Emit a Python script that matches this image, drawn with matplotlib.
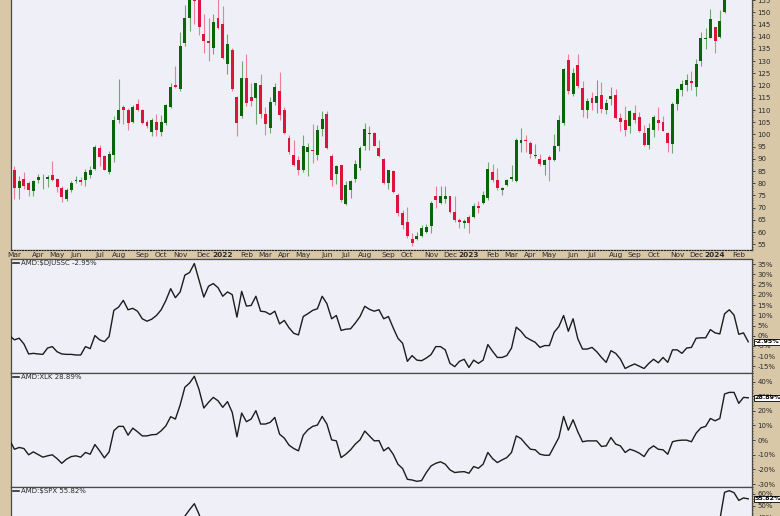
import pandas as pd
import matplotlib
matplotlib.use("Agg")
import matplotlib.pyplot as plt
from matplotlib.ticker import MultipleLocator, FuncFormatter

# weekly AMD candles, first bar = week of 2021-02-22
weeks = pd.date_range("2021-02-22", periods=157, freq="7D")

opens = [88.0, 85.6, 78.0, 81.7, 80.1, 76.7, 81.5, 82.0, 81.9, 83.2, 81.7, 78.0, 73.6, 77.1, 80.8, 81.3,
         81.5, 83.2, 86.0, 94.6, 91.3, 84.6, 91.7, 105.8, 111.3, 110.2, 105.2, 112.6, 110.0, 105.0, 101.1, 105.0,
         101.1, 104.5, 111.3, 120.2, 118.7, 137.4, 147.7, 157.5, 158.0, 141.1, 138.3, 135.6, 147.5, 145.2,
         128.7, 134.6, 115.4, 107.5, 123.3, 115.4, 115.0, 120.1, 108.2, 102.7, 113.3, 117.8, 110.0, 98.6,
         91.7, 89.7, 85.3, 92.7, 93.8, 91.5, 102.3, 108.2, 91.1, 83.9, 87.3, 71.6, 77.3, 81.9, 86.3, 95.2,
         100.0, 100.4, 94.5, 90.1, 80.1, 84.9, 75.3, 67.8, 64.3, 57.1, 57.1, 58.4, 60.2, 62.5, 74.9, 71.9,
         73.5, 74.6, 68.4, 65.0, 63.7, 66.1, 66.1, 70.8, 72.1, 73.9, 84.5, 81.5, 77.1, 79.1, 81.9, 80.8,
         96.3, 97.9, 96.5, 91.1, 89.9, 87.6, 90.8, 89.4, 95.2, 104.5, 130.4, 116.4, 128.3, 119.2, 110.2,
         115.0, 112.7, 116.0, 110.2, 114.6, 116.0, 106.8, 105.9, 103.4, 108.9, 107.2, 100.6, 95.6, 102.0,
         105.9, 105.2, 100.6, 95.9, 112.3, 118.2, 120.1, 121.9, 119.6, 130.1, 139.2, 139.7, 144.2, 140.1,
         150.3, 172.0, 176.0, 171.0, 175.0, 170.0]
highs = [89.5, 87.0, 82.8, 84.6, 81.0, 81.5, 83.7, 84.0, 83.5, 89.0, 82.1, 78.7, 78.0, 80.8, 82.8, 82.4,
         86.0, 87.0, 95.6, 95.6, 91.7, 93.1, 107.5, 122.6, 111.9, 110.9, 111.9, 114.6, 110.5, 106.1, 106.8, 108.5,
         108.0, 112.6, 121.2, 128.1, 141.8, 153.0, 160.0, 161.0, 164.5, 149.3, 147.5, 149.3, 157.0, 152.7,
         141.1, 135.5, 115.7, 130.1, 132.9, 121.2, 121.2, 124.6, 111.3, 115.4, 121.2, 125.6, 111.3, 99.6,
         97.9, 91.3, 99.6, 96.5, 104.1, 103.7, 109.6, 109.6, 92.1, 87.6, 87.6, 80.8, 81.5, 89.7, 95.2, 104.5,
         103.4, 100.9, 97.6, 90.4, 85.6, 85.3, 76.0, 68.9, 70.2, 59.8, 60.2, 63.0, 63.4, 72.6, 79.0, 78.7,
         79.0, 74.9, 74.9, 65.7, 65.3, 67.1, 71.9, 72.6, 76.7, 88.6, 88.0, 86.3, 78.4, 81.9, 87.6, 98.6,
         102.7, 99.6, 97.2, 95.9, 92.1, 89.9, 91.7, 100.0, 107.8, 127.4, 132.8, 127.4, 132.9, 121.9, 115.0,
         117.4, 122.3, 121.5, 114.6, 119.6, 118.7, 108.6, 111.6, 110.0, 111.9, 109.1, 103.7, 104.8, 107.8,
         111.3, 107.5, 100.9, 113.3, 119.2, 122.3, 124.6, 126.0, 130.8, 142.0, 143.4, 151.4, 144.2, 151.0,
         175.0, 180.5, 180.0, 178.0, 180.0, 177.0]
lows = [82.5, 73.6, 73.5, 77.6, 74.6, 74.6, 80.1, 77.6, 78.5, 80.8, 76.3, 72.3, 72.6, 76.3, 80.1, 79.1,
        79.0, 82.0, 85.6, 87.0, 85.3, 83.9, 88.7, 104.8, 104.1, 101.8, 104.8, 109.6, 104.1, 102.7, 99.3, 99.3,
        99.3, 103.7, 110.9, 119.2, 117.8, 136.3, 142.5, 145.2, 140.7, 133.5, 130.1, 132.9, 143.0, 130.8,
        124.6, 117.8, 99.3, 106.8, 111.6, 111.6, 104.1, 106.8, 99.6, 100.6, 111.9, 105.9, 100.0, 92.1,
        87.0, 83.5, 84.5, 82.8, 88.3, 89.4, 99.3, 94.1, 79.0, 79.8, 72.5, 71.2, 73.9, 80.4, 85.6, 93.8,
        93.5, 95.2, 90.8, 79.8, 77.6, 76.0, 66.7, 61.2, 57.5, 54.3, 56.8, 57.9, 59.5, 59.5, 69.8, 71.6,
        72.0, 68.0, 64.3, 61.6, 61.6, 59.8, 65.7, 67.8, 71.6, 73.2, 80.4, 77.1, 75.3, 78.7, 80.8, 80.4,
        92.7, 92.7, 90.4, 90.4, 87.0, 83.5, 80.8, 89.0, 93.1, 103.7, 116.4, 115.7, 119.2, 107.2, 106.8,
        110.2, 108.9, 108.9, 108.2, 111.9, 106.4, 101.3, 99.3, 100.6, 104.8, 100.9, 95.2, 94.1, 99.0,
        101.7, 101.3, 92.7, 92.4, 110.2, 115.7, 117.8, 118.2, 115.7, 128.1, 134.9, 139.3, 133.5, 139.7,
        149.6, 167.0, 163.5, 168.0, 168.5, 163.0]
closes = [84.5, 78.0, 81.0, 78.7, 77.1, 80.8, 82.6, 82.3, 82.6, 81.2, 78.4, 74.3, 77.1, 80.1, 81.5, 80.7,
          84.6, 85.6, 94.9, 90.7, 85.6, 92.1, 106.1, 110.0, 110.2, 104.5, 111.3, 110.0, 104.8, 103.4, 105.9, 102.0,
          105.0, 111.9, 119.6, 119.6, 136.3, 147.7, 157.0, 154.5, 143.8, 138.3, 137.4, 146.1, 143.5, 131.5,
          137.0, 118.5, 104.8, 123.3, 113.0, 113.7, 120.9, 108.2, 104.1, 113.3, 119.6, 107.8, 100.6, 92.7,
          87.6, 85.3, 95.2, 94.9, 93.1, 102.0, 106.4, 94.5, 81.5, 86.9, 73.2, 79.1, 81.0, 88.0, 94.5, 102.3,
          100.6, 95.4, 91.1, 80.1, 85.3, 76.3, 67.8, 63.0, 58.2, 55.7, 58.4, 61.6, 62.0, 72.1, 73.2, 74.9,
          74.9, 68.4, 65.0, 64.3, 64.7, 63.9, 70.8, 69.8, 75.3, 85.8, 81.2, 78.0, 78.0, 81.5, 82.6, 97.9,
          97.9, 97.5, 92.1, 91.7, 88.0, 89.4, 89.4, 95.2, 105.9, 127.0, 117.8, 125.0, 119.8, 110.0, 113.7,
          113.0, 115.7, 110.5, 112.7, 115.7, 106.8, 105.0, 102.0, 109.6, 105.9, 101.3, 95.6, 102.7, 107.2,
          104.8, 101.6, 96.3, 112.3, 118.5, 120.5, 122.3, 121.2, 128.7, 139.3, 139.6, 147.2, 138.3, 146.6,
          174.2, 177.2, 170.5, 174.5, 172.0, 176.5]

# price relative panels, % change since first bar
rel_djussc = [0.0, -2.0, -1.2, -4.0, -8.9, -8.6, -8.9, -9.1, -6.0, -5.3, -7.8, -8.9, -9.1, -9.1, -9.4, -9.4,
              -5.3, -6.3, 0.1, -2.0, -2.9, -0.4, 12.4, 14.0, 17.3, 12.7, 13.4, 12.0, 8.3, 7.1, 8.1, 9.9,
              12.7, 17.3, 23.0, 18.6, 21.4, 29.6, 30.9, 35.3, 27.1, 18.9, 24.2, 25.5, 23.5, 19.3, 21.4, 20.1,
              9.1, 21.7, 14.5, 14.8, 19.3, 12.0, 11.7, 10.4, 12.0, 5.8, 7.5, 3.9, 1.2, 0.4, 9.4, 10.8,
              12.4, 13.2, 19.3, 15.7, 8.3, 9.9, 2.6, 3.2, 3.4, 6.2, 9.4, 14.4, 12.9, 12.0, 12.7, 8.3,
              9.4, 3.9, -1.2, -3.7, -12.5, -9.7, -11.9, -12.2, -10.9, -9.2, -5.3, -5.3, -6.9, -13.5, -15.1, -12.5,
              -11.5, -15.5, -11.9, -13.5, -11.9, -4.3, -7.6, -10.6, -10.6, -9.7, -6.0, 4.2, 2.2, -0.7, -2.0, -3.2,
              -5.7, -4.8, -4.8, 1.7, 4.5, 9.9, 2.2, 8.3, -1.5, -6.5, -6.5, -5.7, -7.8, -10.6, -13.0, -7.3,
              -8.6, -11.4, -16.0, -14.8, -13.8, -14.9, -16.0, -13.5, -11.5, -13.2, -10.6, -13.0, -6.9, -6.9, -8.6, -6.0,
              -5.7, -1.2, -1.0, -1.0, 3.0, 1.4, 0.9, 10.7, 12.7, 10.1, 0.7, 1.4, -2.95]
rel_xlk = [0.0, -6.2, -5.0, -5.7, -10.0, -8.0, -9.8, -11.6, -10.7, -10.0, -12.6, -15.8, -13.0, -11.2, -10.7, -11.6,
           -8.4, -9.6, -3.0, -7.3, -12.1, -8.0, 6.4, 9.4, 9.4, 3.4, 8.2, 5.7, 2.9, 2.9, 3.7, 3.9,
           6.4, 9.8, 16.0, 14.4, 24.0, 36.1, 39.0, 43.6, 34.5, 21.9, 25.8, 29.2, 26.9, 22.4, 26.3, 19.0,
           2.3, 18.5, 12.6, 14.4, 20.1, 11.0, 11.0, 12.1, 15.5, 4.1, 1.4, -3.4, -5.7, -7.3, 3.4, 7.1,
           9.4, 10.3, 16.2, 11.0, 0.2, -0.5, -11.9, -9.6, -6.6, -2.7, 0.2, 6.2, 2.9, -0.5, -0.3, -7.3,
           -5.0, -9.6, -16.4, -19.4, -26.7, -27.2, -28.1, -27.6, -22.1, -17.6, -15.8, -14.8, -16.4, -20.3, -22.1, -21.7,
           -21.5, -22.6, -18.0, -19.2, -16.4, -8.4, -12.6, -15.3, -13.5, -11.9, -8.4, 2.9, 1.1, -2.7, -6.2, -6.6,
           -9.6, -10.3, -10.3, -4.3, 1.8, 16.2, 6.8, 13.9, 5.7, -1.1, -0.5, -0.5, -0.5, -4.3, -3.9, 1.8,
           -2.7, -3.9, -8.4, -6.2, -7.3, -8.9, -11.2, -6.2, -3.9, -6.2, -6.6, -9.6, -1.1, -0.3, 0.0, 0.0,
           -1.1, 4.8, 8.4, 9.4, 14.8, 13.2, 14.8, 31.5, 32.6, 32.6, 25.1, 29.2, 28.89]
rel_spx = [0.0, -4, -3, -3, -7, -5, -7, -9, -8, -7, -10, -13, -10, -8, -7, -8,
           -5, -6, 1, -3, -8, -4, 11, 14, 14, 8, 13, 11, 8, 8, 9, 9,
           12, 16, 22, 21, 31, 41, 46.6, 51.7, 42.6, 30, 33, 36, 34, 28, 31, 23,
           7, 24, 17, 19, 25, 15, 15, 16, 20, 8, 5, 0, -3, -4, 7, 11,
           13, 14, 20, 14, 3, 2, -10, -7, -4, 0, 3, 10, 6, 3, 3, -4,
           -2, -7, -14, -17, -24, -25, -25, -24, -19, -14, -12, -11, -13, -17, -19, -18,
           -18, -19, -14, -15, -12, -3, -7, -10, -8, -6, -2, 10, 8, 4, 1, 0,
           -3, -3, -3, 4, 10, 26, 16, 24, 15, 8, 9, 9, 9, 5, 6, 12,
           7, 6, 1, 3, 2, 1, -2, 4, 7, 4, 4, 1, 10, 12, 13, 14,
           13, 19, 26, 27, 38, 33, 38, 61.4, 62.8, 61.1, 54.5, 56.6, 55.82]

panels = [("AMD:$DJUSSC", rel_djussc, (-18.2, 37.5), 5),
          ("AMD:XLK", rel_xlk, (-31.7, 46.1), 10),
          ("AMD:$SPX", rel_spx, (-31.2, 66.2), 10)]

TAN = "#d8c8a8"
BG = "#eff0f7"
UP, DOWN = "#0a640a", "#dc143c"
UP_WICK, DOWN_WICK = "#6fa86f", "#ec7f97"
INK = "#2a2a2a"
W, H = 780, 516

fig = plt.figure(figsize=(7.8, 5.16), dpi=100, facecolor=TAN)


def px_axes(top, bottom, left=10.5, right=752.5):
    return fig.add_axes([left / W, 1 - bottom / H, (right - left) / W, (bottom - top) / H])


def style(ax):
    ax.set_facecolor(BG)
    ax.set_xlim(0.17, 156.9)
    ax.set_xticks([])
    ax.yaxis.tick_right()
    ax.tick_params(axis="y", which="major", labelsize=5, colors=INK, length=2, width=0.6, pad=1.5)
    ax.tick_params(axis="y", which="minor", length=1, width=0.5, colors=INK)
    for s in ax.spines.values():
        s.set_color("#4a4a4a")
        s.set_linewidth(0.9)


x = list(range(len(weeks)))

# price panel
ax = px_axes(-1, 250)
style(ax)
for i in x:
    o, h, l, c = opens[i], highs[i], lows[i], closes[i]
    up = c >= o
    ax.vlines(i, l, h, color=UP_WICK if up else DOWN_WICK, lw=0.8, zorder=2)
    ax.bar(i, max(abs(c - o), 0.35), bottom=min(o, c), width=0.62,
           color=UP if up else DOWN, zorder=3, linewidth=0)
ax.set_ylim(52.67, 155.47)
ax.yaxis.set_major_locator(MultipleLocator(5))
ax.yaxis.set_minor_locator(MultipleLocator(1))
ax.spines["top"].set_visible(False)

# date strip: label each month at the first bar whose first trading day falls in it
monday_holidays = pd.to_datetime(["2021-05-31"])
first_day = weeks.where(~weeks.isin(monday_holidays), weeks + pd.Timedelta(days=1))
ax_d = px_axes(250, 259)
ax_d.set_facecolor(TAN)
ax_d.set_xlim(0.17, 156.9)
ax_d.set_ylim(0, 1)
ax_d.set_xticks([])
ax_d.set_yticks([])
for s in ["left", "right"]:
    ax_d.spines[s].set_visible(False)
for s in ["top", "bottom"]:
    ax_d.spines[s].set_linestyle((0, (1, 1.5)))
    ax_d.spines[s].set_color("#222222")
    ax_d.spines[s].set_linewidth(0.8)
for i in range(1, len(weeks)):
    if first_day[i].month != first_day[i - 1].month:
        d = first_day[i]
        if d.month == 1:
            ax_d.text(i, 0.45, str(d.year), ha="center", va="center", fontsize=5.3,
                      fontweight="bold", color=INK)
        else:
            ax_d.text(i, 0.45, d.strftime("%b"), ha="center", va="center", fontsize=5.3, color=INK)

# relative strength panels
tops = [259, 372.6, 486.7]
for (name, vals, lim, step), top in zip(panels, tops):
    ax = px_axes(top, top + 114)
    style(ax)
    ax.plot(x, vals, color="#1c1c1c", lw=1.0, zorder=3)
    ax.set_ylim(*lim)
    ax.yaxis.set_major_locator(MultipleLocator(step))
    ax.yaxis.set_minor_locator(MultipleLocator(step / 5))
    ax.yaxis.set_major_formatter(FuncFormatter(lambda v, p: f"{v:.0f}%"))
    last = vals[-1]
    yfrac = 1 - 4.2 / 114
    ax.plot([0.003, 0.011], [yfrac, yfrac], transform=ax.transAxes, color=INK, lw=1.2)
    ax.text(0.0135, yfrac, f"{name} {last:.2f}%", transform=ax.transAxes, ha="left", va="center",
            fontsize=5, color=INK)
    ax.text(1.0025, last, f"{last:.2f}%", transform=ax.get_yaxis_transform(), ha="left", va="center",
            fontsize=4.6, fontweight="bold", color="black", clip_on=False, zorder=10,
            bbox=dict(boxstyle="square,pad=0.1", fc="white", ec="black", lw=0.6))

fig.savefig("out.png", dpi=100, facecolor=TAN)
